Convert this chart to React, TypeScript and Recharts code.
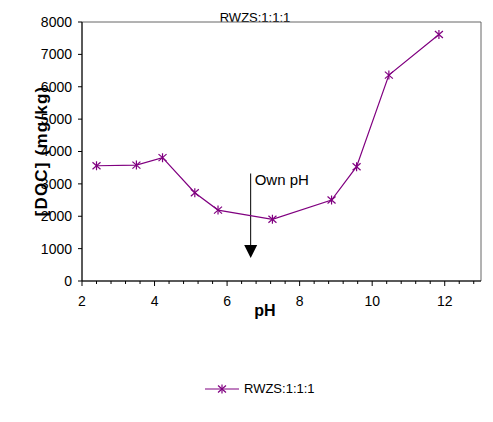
import React from "react";
import {
  LineChart,
  Line,
  XAxis,
  YAxis,
  Legend,
  ReferenceArea,
  ReferenceLine,
  ReferenceDot,
  Customized,
} from "recharts";

const FONT = "'Liberation Sans', Arial, sans-serif";
const PURPLE = "#800080";

const phValues = [2.4, 3.5, 4.22, 5.11, 5.75, 7.25, 8.88, 9.57, 10.46, 11.84];
const docValues = [3560, 3580, 3810, 2725, 2190, 1905, 2500, 3530, 6360, 7615];

const xTicks = [
  2, 2.4, 2.8, 3.2, 3.6, 4, 4.4, 4.8, 5.2, 5.6, 6, 6.4, 6.8, 7.2, 7.6, 8, 8.4,
  8.8, 9.2, 9.6, 10, 10.4, 10.8, 11.2, 11.6, 12, 12.4, 12.8,
];
const xMajor = [2, 4, 6, 8, 10, 12];
const yTicks = [0, 1000, 2000, 3000, 4000, 5000, 6000, 7000, 8000];

const seriesName = "RWZS:1:1:1";
const ownPhX = 6.65;
const arrowTop = 3320;
const arrowTip = 710;
const arrowHeadTop = 1110;
const ownPhLabelY = 2960;

const data = phValues.map((ph, i) => ({ ph, doc: docValues[i] }));

const Star = (props: any) => {
  const { cx, cy } = props;
  if (cx == null || cy == null) return null;
  return (
    <g stroke={PURPLE} strokeWidth={1.2}>
      <line x1={cx} y1={cy - 4.5} x2={cx} y2={cy + 4.5} />
      <line x1={cx - 4} y1={cy - 3.5} x2={cx + 4} y2={cy + 3.5} />
      <line x1={cx - 4} y1={cy + 3.5} x2={cx + 4} y2={cy - 3.5} />
    </g>
  );
};

const XTick = (props: any) => {
  const { x, y, payload } = props;
  const major = xMajor.includes(payload.value);
  return (
    <g>
      <line x1={x} x2={x} y1={y} y2={y + (major ? 5 : 3)} stroke="#000" />
      {major && (
        <text
          x={x}
          y={y + 25}
          textAnchor="middle"
          fontSize={14}
          fontFamily={FONT}
          fill="#000"
        >
          {payload.value}
        </text>
      )}
    </g>
  );
};

const ArrowHead = (props: any) => {
  const { cx, cy } = props;
  return (
    <path
      d={`M${cx - 6.5},${cy - 13} L${cx + 6.5},${cy - 13} L${cx},${cy} Z`}
      fill="#000"
    />
  );
};

const OwnPhText = (props: any) => {
  const { cx, cy } = props;
  return (
    <text x={cx + 4} y={cy} fontSize={15} fontFamily={FONT} fill="#000">
      Own pH
    </text>
  );
};

const Texts = () => (
  <g fontFamily={FONT} fill="#000">
    <text x={255} y={22} textAnchor="middle" fontSize={13}>
      {seriesName}
    </text>
    <text
      x={0}
      y={0}
      transform="translate(47,151) rotate(-90)"
      textAnchor="middle"
      fontSize={17}
      fontWeight="bold"
      letterSpacing={1.2}
    >
      [DOC] (mg/kg)
    </text>
    <text x={265} y={316} textAnchor="middle" fontSize={16} fontWeight="bold">
      pH
    </text>
  </g>
);

const LegendContent = () => (
  <div
    style={{
      display: "flex",
      alignItems: "center",
      fontFamily: FONT,
      fontSize: 13,
      color: "#000",
    }}
  >
    <svg width={36} height={12} style={{ marginRight: 3 }}>
      <line x1={0} y1={6} x2={34} y2={6} stroke={PURPLE} strokeWidth={1.2} />
      <Star cx={17} cy={6} />
    </svg>
    <span>{seriesName}</span>
  </div>
);

export default function App() {
  return (
    <div style={{ position: "absolute", left: 0, top: 0 }}>
      <LineChart
        width={493}
        height={422}
        data={data}
        margin={{ top: 22, right: 12, left: 0, bottom: 111 }}
      >
        <ReferenceArea
          x1={2}
          x2={13}
          y1={0}
          y2={8000}
          fill="none"
          stroke="#666"
          strokeOpacity={1}
          fillOpacity={0}
        />
        <XAxis
          dataKey="ph"
          type="number"
          domain={[2, 13]}
          ticks={xTicks}
          interval={0}
          height={30}
          tickSize={0}
          tickMargin={0}
          tickLine={false}
          tick={<XTick />}
          axisLine={{ stroke: "#000" }}
          allowDataOverflow
        />
        <YAxis
          type="number"
          domain={[0, 8000]}
          ticks={yTicks}
          interval={0}
          width={82}
          tickSize={4}
          tickMargin={6}
          tickLine={{ stroke: "#000" }}
          axisLine={{ stroke: "#000" }}
          tick={{ fontSize: 14, fill: "#000", fontFamily: FONT }}
        />
        <ReferenceLine
          segment={[
            { x: ownPhX, y: arrowTop },
            { x: ownPhX, y: arrowHeadTop },
          ]}
          stroke="#000"
          strokeWidth={1}
        />
        <ReferenceDot x={ownPhX} y={arrowTip} shape={<ArrowHead />} />
        <ReferenceDot x={ownPhX} y={ownPhLabelY} shape={<OwnPhText />} />
        <Line
          dataKey="doc"
          name={seriesName}
          stroke={PURPLE}
          strokeWidth={1.2}
          dot={<Star />}
          activeDot={false}
          isAnimationActive={false}
        />
        <Customized component={Texts} />
        <Legend
          verticalAlign="middle"
          align="center"
          layout="horizontal"
          wrapperStyle={{ top: 381, left: 205, width: "auto" }}
          content={<LegendContent />}
        />
      </LineChart>
    </div>
  );
}
